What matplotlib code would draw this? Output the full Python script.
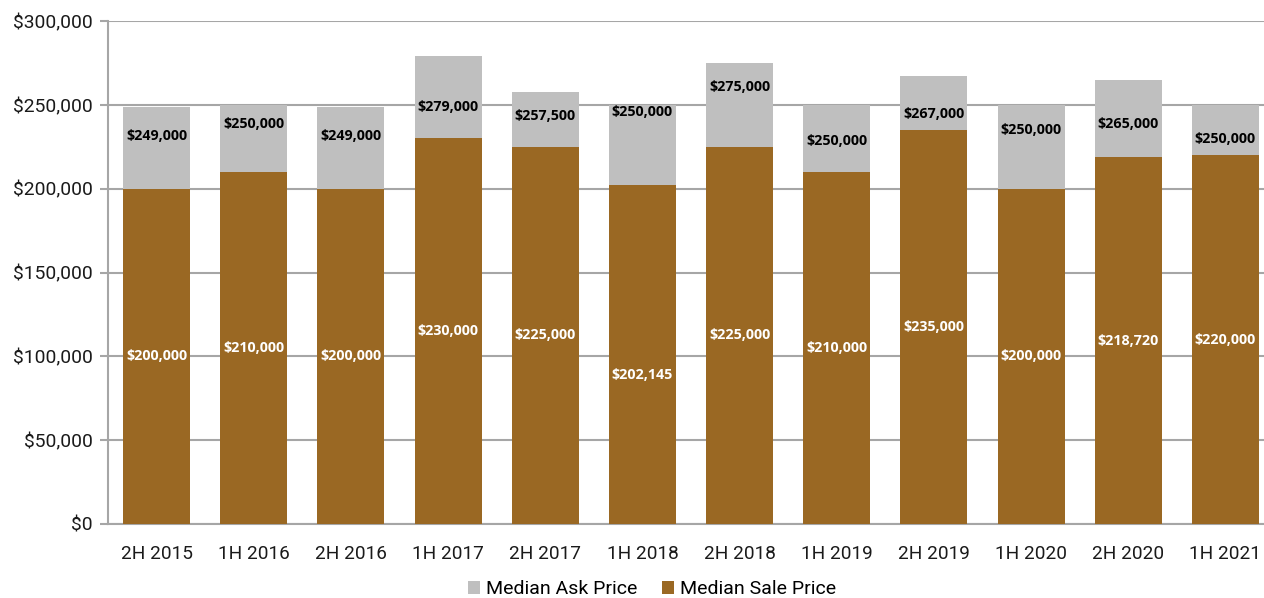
import matplotlib
matplotlib.use("Agg")
import matplotlib.pyplot as plt
from matplotlib.patches import Patch
from matplotlib.ticker import FuncFormatter

periods = ["2H 2015", "1H 2016", "2H 2016", "1H 2017", "2H 2017", "1H 2018",
           "2H 2018", "1H 2019", "2H 2019", "1H 2020", "2H 2020", "1H 2021"]
ask_price = [249000, 250000, 249000, 279000, 257500, 250000,
             275000, 250000, 267000, 250000, 265000, 250000]
sale_price = [200000, 210000, 200000, 230000, 225000, 202145,
              225000, 210000, 235000, 200000, 218720, 220000]

# vertical placement of the value labels (in data units)
ask_label_y = [231400, 238600, 231400, 248700, 243200, 245600,
               260600, 228400, 244700, 235000, 238600, 229600]
sale_label_y = [v / 2 for v in sale_price]
sale_label_y[5] = 88900

GRAY = "#BFBFBF"
BROWN = "#9A6823"
GRID = "#A6A6A6"

fig = plt.figure(figsize=(12.64, 5.98), dpi=100)
ax = fig.add_axes([108 / 1264, 74 / 598, 1166 / 1264, 503 / 598])

x = list(range(len(periods)))
w = 0.69
ax.bar(x, ask_price, width=w, color=GRAY, zorder=2, label="Median Ask Price")
ax.bar(x, sale_price, width=w, color=BROWN, zorder=3, label="Median Sale Price")

label_font = dict(family=["Open Sans", "DejaVu Sans"], fontweight="bold", fontsize=10.3,
                  ha="center", va="center", zorder=5)
for i in x:
    ax.text(i, ask_label_y[i], f"${ask_price[i]:,}", color="black", **label_font)
    ax.text(i, sale_label_y[i], f"${sale_price[i]:,}", color="white", **label_font)

ax.set_xlim(-0.5, len(periods) - 0.5)
ax.set_ylim(0, 300000)
ax.set_yticks(range(0, 300001, 50000))
ax.yaxis.set_major_formatter(FuncFormatter(lambda v, p: f"${int(v):,}"))
ax.set_xticks(x)
ax.set_xticklabels(periods)

ax.grid(axis="y", color=GRID, linewidth=1.5, zorder=0)
ax.set_axisbelow(True)
for side in ["top", "right"]:
    ax.spines[side].set_visible(False)
for side in ["left", "bottom"]:
    ax.spines[side].set_color(GRID)
    ax.spines[side].set_linewidth(1.5)

ax.tick_params(axis="y", length=6, width=1.5, color=GRID, pad=5,
               labelsize=13.9, labelcolor="#1a1a1a")
ax.tick_params(axis="x", length=0, pad=15, labelsize=13.7, labelcolor="#1a1a1a")
for lbl in ax.get_xticklabels() + ax.get_yticklabels():
    lbl.set_fontfamily("Roboto")

handles = [Patch(facecolor=GRAY, label="Median Ask Price"),
           Patch(facecolor=BROWN, label="Median Sale Price")]
fig.legend(handles=handles, loc="center", bbox_to_anchor=(652 / 1264, 8.5 / 598),
           ncol=2, frameon=False, prop={"family": "Roboto", "size": 14},
           handlelength=0.62, handleheight=0.62, handletextpad=0.3, columnspacing=1.3,
           borderpad=0.2)

fig.savefig("out.png", dpi=100)
